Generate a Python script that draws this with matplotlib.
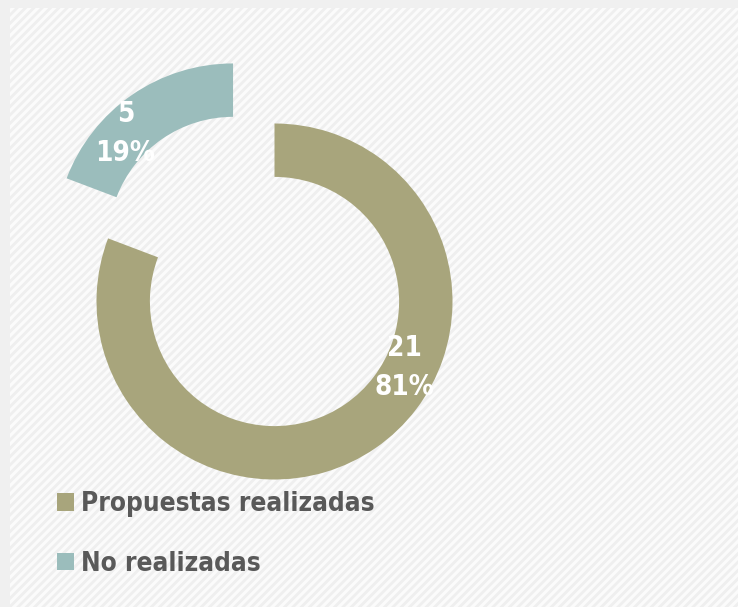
import matplotlib.pyplot as plt
from matplotlib.patches import Rectangle, Patch
import numpy as np

categories = ["Propuestas realizadas", "No realizadas"]
counts = [21, 5]
colors = ["#A8A57C", "#9BBDBC"]
explode = [0, 0.41]

plt.rcParams["font.family"] = ["DejaVu Sans Condensed", "DejaVu Sans"]
plt.rcParams["font.stretch"] = "condensed"
plt.rcParams["hatch.linewidth"] = 2.0

fig = plt.figure(figsize=(7.38, 6.07), dpi=100, facecolor="#f0f0f0")

# textured plot area
bg = Rectangle((10 / 738, 0), 1, 1 - 8 / 607, transform=fig.transFigure,
               facecolor="#fbfbfb", edgecolor="#efefef", linewidth=0,
               hatch="////", zorder=-5)
fig.patches.append(bg)

ax = fig.add_axes([0, 0, 1, 1])
ax.set_facecolor("none")

wedges, _ = ax.pie(counts, colors=colors, explode=explode, startangle=90,
                   counterclock=False, radius=1,
                   wedgeprops=dict(width=0.30, edgecolor="none"))

R_px = 178
cx, cy = 274.5, 301.5
ax.set_xlim(-cx / R_px, (738 - cx) / R_px)
ax.set_ylim(-(607 - cy) / R_px, cy / R_px)
ax.axis("off")

total = sum(counts)
# label positions (angle clockwise from top, radius fraction)
label_pos = [(117, 0.82), (315, 0.855)]
start = 0
for i, (val, col) in enumerate(zip(counts, colors)):
    frac = val / total
    mid = np.deg2rad(360 * (start + frac / 2))
    ox = explode[i] * np.sin(mid)
    oy = explode[i] * np.cos(mid)
    ang, r = label_pos[i]
    a = np.deg2rad(ang)
    ax.text(ox + r * np.sin(a), oy + r * np.cos(a),
            f"{val}\n{round(frac * 100)}%", color="white", fontsize=20,
            fontweight="bold", ha="center", va="center", linespacing=1.5)
    start += frac

handles = [Patch(facecolor=c, edgecolor="none") for c in colors]
leg = ax.legend(handles, categories, loc="upper left",
                bbox_to_anchor=(57 / 738, 1 - 491 / 607), frameon=False,
                borderpad=0, borderaxespad=0,
                fontsize=18.8, handlelength=0.65, handleheight=0.65,
                handletextpad=0.27, labelspacing=1.3)
for t in leg.get_texts():
    t.set_color("#595959")
    t.set_fontweight("bold")

fig.savefig("out.png", dpi=100, facecolor=fig.get_facecolor())
